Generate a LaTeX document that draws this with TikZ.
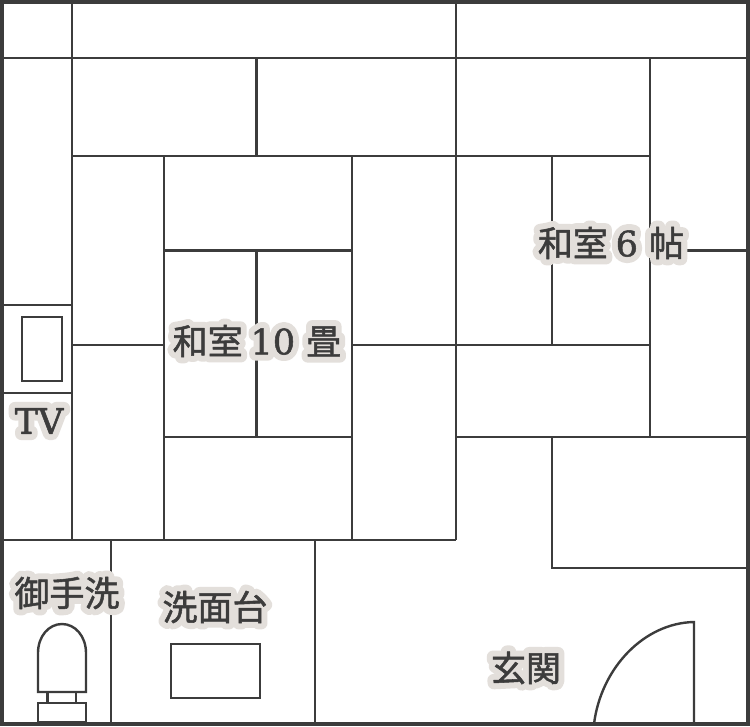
\documentclass[tikz,border=0pt]{standalone}
\usepackage{fontspec}
\newfontfamily\jpf[FakeBold=1.5]{Noto Sans CJK JP}
\newfontfamily\jph[FakeBold=36]{Noto Sans CJK JP}
\newfontfamily\serf[FakeBold=1.5]{DejaVu Serif}
\newfontfamily\serh[FakeBold=36]{DejaVu Serif}
\definecolor{ink}{HTML}{3C3C3C}
\definecolor{halo}{HTML}{E3DFDB}
\newcommand\haloed[1]{\special{pdf:code 1 j}\fontsize{35}{37}\selectfont
  \rlap{\color{halo}\let\J\jph\let\Z\serh #1}{\color{ink}\let\J\jpf\let\Z\serf #1}}
\tikzset{
  wall/.style={draw=ink,line width=2.4pt},
  outer/.style={draw=ink,line width=4.5pt},
  room/.style={inner sep=0pt,outer sep=0pt,anchor=center}
}
\begin{document}
\begin{tikzpicture}[x=1pt,y=-1pt]
\useasboundingbox (0,0) rectangle (750,726);
\fill[white] (0,0) rectangle (750,726);
\begin{scope}[wall]
\draw (2,58) -- (748,58);
\draw (72,2) -- (72,540);
\draw (456,2) -- (456,540);
\draw (72,156) -- (650,156);
\draw (256.5,58) -- (256.5,156);
\draw (650,58) -- (650,437);
\draw (164,156) -- (164,540);
\draw (352,156) -- (352,540);
\draw (164,250.5) -- (352,250.5);
\draw (256.5,250.5) -- (256.5,437);
\draw (164,437) -- (352,437);
\draw (72,345) -- (164,345);
\draw (352,345) -- (650,345);
\draw (552,156) -- (552,345);
\draw (650,250.5) -- (748,250.5);
\draw (456,437) -- (748,437);
\draw (552,437) -- (552,568) -- (748,568);
\draw (2,540) -- (456,540);
\draw (111,540) -- (111,724);
\draw (315,540) -- (315,724);
\draw (2,305) -- (72,305);
\draw (2,393) -- (72,393);
\draw (22,317) rectangle (62,381);
\draw (171,644) rectangle (260,698);
\draw (38,692) -- (38,653) .. controls (38,636) and (49,624) .. (62,624) .. controls (75,624) and (86,636) .. (86,653) -- (86,692) -- cycle;
\draw (47.5,692) -- (47.5,703);
\draw (76,692) -- (76,703);
\draw (38,703) rectangle (86,722);
\draw (594,724) .. controls (601,668) and (644,623) .. (694,622) -- (694,724);
\end{scope}
\draw[outer] (2,2) rectangle (748,724);
\begin{scope}[line join=round]
\node[room] (tenroom) at (257,341) {\haloed{\J 和室 \Z 10 \J 畳}};
\node[room] (sixroom) at (611,243) {\haloed{\J 和室 \Z 6 \J 帖}};
\node[room] (tv) at (39,421) {\haloed{\Z TV}};
\node[room] (toilet) at (67,593) {\haloed{\J 御手洗}};
\node[room] (sink) at (215,607) {\haloed{\J 洗面台}};
\node[room] (entry) at (526,668) {\haloed{\J 玄関}};
\end{scope}
\end{tikzpicture}
\end{document}
